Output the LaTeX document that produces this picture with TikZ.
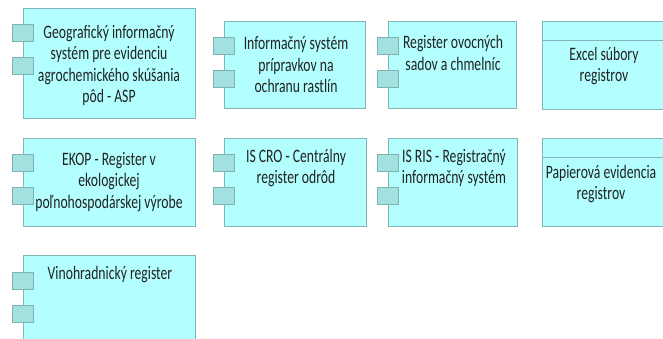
\documentclass[tikz,border=0pt]{standalone}
\usepackage{fontspec}
\setmainfont{Carlito}[FakeStretch=0.72]
\definecolor{boxfill}{HTML}{B3FFFF}
\definecolor{boxline}{HTML}{84B5B5}
\definecolor{portfill}{HTML}{A3E0E0}
\definecolor{portline}{HTML}{7FB2B2}
\definecolor{txt}{HTML}{222222}
\tikzset{
  comp/.style={draw=boxline, fill=boxfill, line width=0.9pt, rectangle, inner sep=0pt, anchor=north west},
  port/.style={draw=portline, fill=portfill, line width=0.9pt, rectangle, inner sep=0pt, anchor=north west, minimum width=21pt, minimum height=17pt},
  lbl/.style={text=txt, align=center, inner sep=0pt, font=\fontsize{19}{21.5}\selectfont},
}
\begin{document}
\begin{tikzpicture}[x=1pt,y=-1pt]
\useasboundingbox (0,0) rectangle (663,338);
\fill[white] (0,0) rectangle (663,338);
\clip (0,0) rectangle (663,338);
% Row 1
\node[comp, minimum width=172pt, minimum height=110pt] (b1) at (23,8) {};
\node[port] (b1p1) at (12,24) {};
\node[port] (b1p2) at (12,57) {};
\node[lbl] (t1) at (109,65.5) {Geografický informačný\\systém pre evidenciu\\agrochemického skúšania\\pôd - ASP};

\node[comp, minimum width=141pt, minimum height=87pt] (b2) at (224,21) {};
\node[port] (b2p1) at (213,37) {};
\node[port] (b2p2) at (213,70) {};
\node[lbl] (t2) at (296,65) {Informačný systém\\prípravkov na\\ochranu rastlín};

\node[comp, minimum width=128pt, minimum height=87pt] (b3) at (388,21) {};
\node[port] (b3p1) at (377,37) {};
\node[port] (b3p2) at (377,70) {};
\node[lbl] (t3) at (453,53) {Register ovocných\\sadov a chmelníc};

\node[comp, minimum width=124pt, minimum height=88pt] (b4) at (542,21) {};
\draw[draw=boxline, line width=0.9pt] (b4.west |- 0,40) coordinate (b4l) -- (b4.east |- 0,40) coordinate (b4r);
\node[lbl] (t4) at (604,66) {Excel súbory\\registrov};

% Row 2
\node[comp, minimum width=172pt, minimum height=88pt] (b5) at (23,138) {};
\node[port] (b5p1) at (12,154) {};
\node[port] (b5p2) at (12,187) {};
\node[lbl] (t5) at (109,182) {EKOP - Register v\\ekologickej\\poľnohospodárskej výrobe};

\node[comp, minimum width=142pt, minimum height=88pt] (b6) at (224,138) {};
\node[port] (b6p1) at (213,154) {};
\node[port] (b6p2) at (213,187) {};
\node[lbl] (t6) at (296,168) {IS CRO - Centrálny\\register odrôd};

\node[comp, minimum width=129pt, minimum height=88pt] (b7) at (388,138) {};
\node[port] (b7p1) at (377,154) {};
\node[port] (b7p2) at (377,187) {};
\node[lbl] (t7) at (454,168) {IS RIS - Registračný\\informačný systém};

\node[comp, minimum width=124pt, minimum height=88pt] (b8) at (542,138) {};
\draw[draw=boxline, line width=0.9pt] (b8.west |- 0,157) coordinate (b8l) -- (b8.east |- 0,157) coordinate (b8r);
\node[lbl] (t8) at (601,184) {Papierová evidencia\\registrov};

% Row 3
\node[comp, minimum width=172pt, minimum height=95pt] (b9) at (23,255) {};
\node[port] (b9p1) at (12,272) {};
\node[port] (b9p2) at (12,305) {};
\node[lbl] (t9) at (110,275) {Vinohradnický register};
\end{tikzpicture}
\end{document}
